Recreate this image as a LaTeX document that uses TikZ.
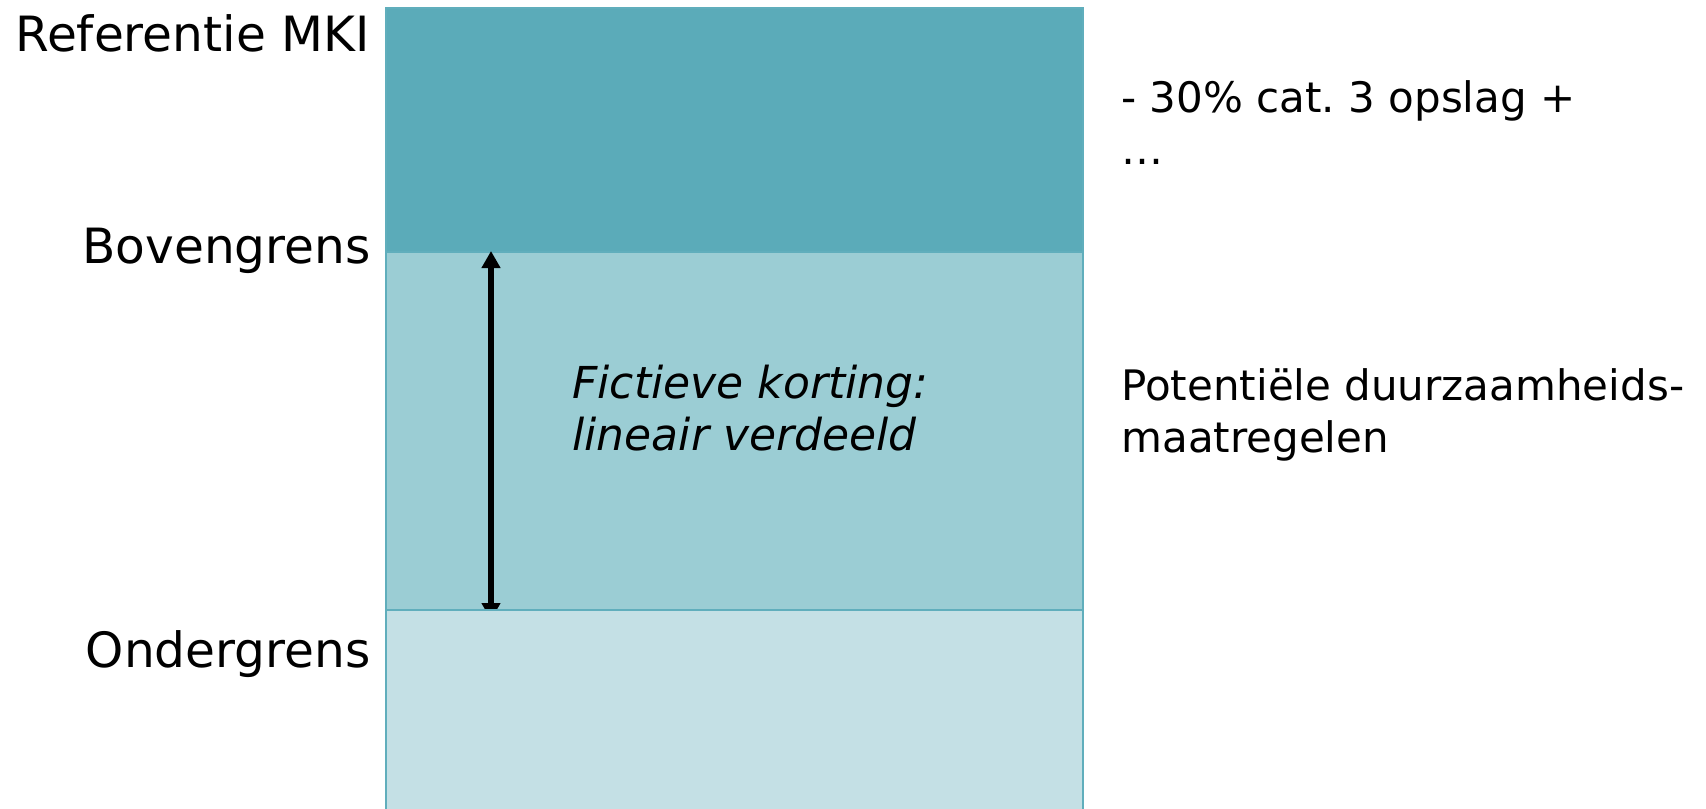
\documentclass[tikz,border=0pt]{standalone}
\usepackage{fontspec}
\setmainfont{DejaVu Sans}
\usetikzlibrary{arrows.meta}
\definecolor{bandtop}{RGB}{91,171,185}
\definecolor{bandmid}{RGB}{155,205,212}
\definecolor{bandlow}{RGB}{196,224,229}
\definecolor{bandline}{RGB}{96,174,188}
\frenchspacing
\begin{document}
\begin{tikzpicture}[x=0.5pt,y=-0.5pt,
  band/.style={draw=bandline, line width=0.8pt, inner sep=0pt, anchor=north west, minimum width=348.5pt},
  lbl/.style={font=\fontsize{24.3}{28}\selectfont, inner sep=0pt, anchor=base east},
  note/.style={font=\fontsize{21}{25.8}\selectfont, inner sep=0pt, align=left, anchor=base west},
  fattip/.tip={Triangle[width=9pt,length=8.5pt]}]
\useasboundingbox (0,0) rectangle (1706,808);

% stacked cost bands
\node[band, fill=bandtop, minimum height=122pt] (upper) at (385,7) {};
\node[band, fill=bandmid, minimum height=179pt] (middle) at (385,251) {};

% range of the fictitious discount
\coordinate (atop) at (491,251);
\coordinate (abot) at (491,620);
\draw[line width=3pt, fattip-fattip] (abot) -- (atop);

\node[band, fill=bandlow, minimum height=106pt] (lower) at (385,609) {};

% level labels
\node[lbl] (ref) at (370,52) {Referentie MKI};
\node[lbl] (boven) at (371,263) {Bovengrens};
\node[lbl] (onder) at (371,667) {Ondergrens};

% band descriptions (anchored at the baseline of their last line)
\node[note, font=\fontsize{22}{25.8}\selectfont\itshape] (korting) at (572,450) {Fictieve korting:\\lineair verdeeld};
\node[note] (opslag) at (1121,164) {- 30\% cat. 3 opslag +\\…};
\node[note] (duurzaam) at (1121,452) {Potentiële duurzaamheids-\\maatregelen};
\end{tikzpicture}
\end{document}
